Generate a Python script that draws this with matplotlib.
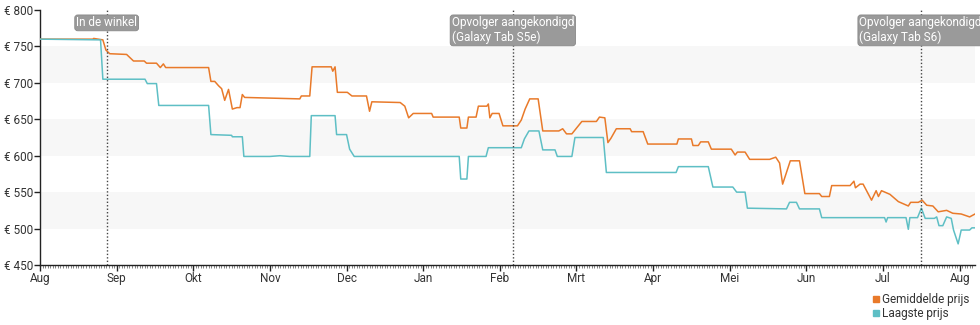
import matplotlib
matplotlib.use('Agg')
import matplotlib.pyplot as plt
import matplotlib.transforms as mtransforms
from matplotlib.lines import Line2D
import numpy as np

plt.rcParams['font.family'] = ['Roboto', 'DejaVu Sans']

# Tijdas in maanden vanaf begin augustus (0 = 1 aug, 12 = 1 aug volgend jaar)
maanden = ['Aug', 'Sep', 'Okt', 'Nov', 'Dec', 'Jan', 'Feb', 'Mrt', 'Apr', 'Mei', 'Jun', 'Jul', 'Aug']

# Gemiddelde prijs
gem_x = [0.00, 0.69, 0.70, 0.82, 0.86, 0.91, 1.13, 1.22, 1.36, 1.39, 1.52, 1.57, 1.61, 1.64,
         2.20, 2.23, 2.28, 2.33, 2.37, 2.41, 2.46, 2.51, 2.57, 2.61, 2.64, 2.67, 3.39, 3.41,
         3.52, 3.55, 3.80, 3.82, 3.85, 3.88, 4.01, 4.07, 4.26, 4.30, 4.33, 4.70, 4.76, 4.81,
         4.87, 5.11, 5.13, 5.47, 5.49, 5.57, 5.59, 5.69, 5.72, 5.83, 5.85, 5.87, 5.90, 5.99,
         6.04, 6.23, 6.28, 6.33, 6.39, 6.50, 6.56, 6.77, 6.82, 6.87, 6.94, 7.07, 7.26, 7.30,
         7.37, 7.41, 7.45, 7.52, 7.70, 7.72, 7.87, 7.93, 8.31, 8.33, 8.50, 8.52, 8.59, 8.62,
         8.72, 8.76, 9.02, 9.07, 9.10, 9.20, 9.26, 9.52, 9.60, 9.65, 9.69, 9.79, 9.91, 9.98,
         10.17, 10.20, 10.30, 10.33, 10.57, 10.62, 10.64, 10.70, 10.74, 10.85, 10.91, 10.94,
         10.98, 11.09, 11.20, 11.33, 11.36, 11.46, 11.51, 11.57, 11.65, 11.72, 11.83, 11.91,
         12.02, 12.13, 12.20]
gem_y = [760, 760, 761, 759, 745, 740, 739, 730, 730, 727, 727, 721, 726, 721,
         721, 702, 702, 696, 692, 676, 691, 664, 666, 666, 684, 680, 678, 682,
         682, 722, 722, 716, 722, 687, 687, 682, 682, 661, 674, 673, 668, 652,
         658, 658, 653, 653, 638, 638, 653, 653, 668, 668, 671, 652, 658, 658,
         641, 641, 649, 664, 678, 678, 634, 634, 637, 630, 630, 647, 647, 653,
         652, 618, 624, 637, 637, 633, 633, 616, 616, 623, 623, 614, 614, 619,
         619, 609, 609, 601, 605, 605, 595, 595, 598, 590, 561, 593, 593, 548,
         548, 544, 544, 559, 559, 565, 556, 561, 561, 539, 552, 544,
         552, 547, 537, 531, 536, 536, 539, 532, 531, 523, 525, 521,
         520, 516, 520]

# Laagste prijs
laag_x = [0.00, 0.79, 0.82, 1.37, 1.40, 1.52, 1.55, 2.20, 2.23, 2.50, 2.51, 2.64, 2.66,
          3.00, 3.13, 3.26, 3.52, 3.54, 3.85, 3.87, 4.00, 4.04, 4.10, 5.47, 5.49, 5.57,
          5.59, 5.82, 5.85, 6.28, 6.32, 6.38, 6.51, 6.56, 6.72, 6.75, 6.94, 6.98, 7.35,
          7.39, 8.30, 8.33, 8.72, 8.78, 9.04, 9.09, 9.20, 9.23, 9.74, 9.78, 9.87, 9.91,
          10.17, 10.20, 11.02, 11.04, 11.06, 11.30, 11.33, 11.35, 11.45, 11.50, 11.55,
          11.67, 11.70, 11.73, 11.78, 11.83, 11.89, 11.92, 11.98, 12.02, 12.13, 12.16, 12.20]
laag_y = [760, 759, 705, 705, 699, 699, 669, 669, 629, 628, 626, 626, 599,
          599, 600, 599, 599, 655, 655, 629, 629, 609, 599, 599, 568, 568,
          599, 599, 611, 611, 623, 634, 634, 608, 608, 599, 599, 625, 625,
          577, 577, 585, 585, 557, 557, 550, 550, 528, 527, 536, 536, 527,
          527, 515, 515, 509, 515, 515, 499, 515, 515, 528, 514,
          514, 516, 504, 504, 516, 514, 498, 479, 498, 498, 501, 501]

# Gebeurtenissen
gebeurtenis_x = [0.87, 6.17, 11.49]
gebeurtenis_tekst = ['In de winkel', 'Opvolger aangekondigd\n(Galaxy Tab S5e)',
                     'Opvolger aangekondigd\n(Galaxy Tab S6)']

oranje = '#e97a2a'
turkoois = '#5ebfc5'

fig = plt.figure(figsize=(9.8, 3.25), dpi=100)
ax = fig.add_axes([40 / 980, 1 - 265 / 325, 935 / 980, 255 / 325])

# Grijze banden achter de grafiek
for lo in (500, 600, 700):
    ax.axhspan(lo, lo + 50, color='#f7f7f7', zorder=0, lw=0)

ax.plot(gem_x, gem_y, color=oranje, lw=1.1, zorder=3)
ax.plot(laag_x, laag_y, color=turkoois, lw=1.1, zorder=4)

trans = mtransforms.blended_transform_factory(ax.transData, ax.transAxes)
for gx, tekst in zip(gebeurtenis_x, gebeurtenis_tekst):
    ax.axvline(gx, color='#444444', ls=(0, (1, 1.5)), lw=1.0, zorder=5)
    ax.text(gx, 0.975, tekst, transform=trans, ha='center', va='top',
            multialignment='left', color='white', fontsize=8.5, zorder=6,
            linespacing=1.15,
            bbox=dict(boxstyle='round,pad=0.12,rounding_size=0.25',
                      fc='#9a9a9a', ec='#888888', lw=0.6))

ax.set_xlim(0, 12.2)
ax.set_ylim(450, 800)
ax.set_yticks(np.arange(450, 801, 50))
ax.set_yticklabels([f'€ {v}' for v in range(450, 801, 50)])
ax.set_xticks(range(len(maanden)))
ax.set_xticklabels(maanden)
ax.set_xticks(np.arange(0, 12.2, 1 / 30), minor=True)

for s in ('top', 'right'):
    ax.spines[s].set_visible(False)
for s in ('left', 'bottom'):
    ax.spines[s].set_color('#222222')
    ax.spines[s].set_linewidth(1.0)

ax.tick_params(axis='both', which='major', labelsize=8.5, colors='#222222',
               labelcolor='#333333', length=4, width=1.0, pad=1)
ax.tick_params(axis='x', which='minor', length=2, width=0.5, colors='#555555')

handles = [Line2D([], [], ls='none', marker='s', ms=5, color=oranje),
           Line2D([], [], ls='none', marker='s', ms=5, color=turkoois)]
fig.legend(handles, ['Gemiddelde prijs', 'Laagste prijs'], loc='lower right',
           bbox_to_anchor=(0.998, -0.01), frameon=False, fontsize=8.5,
           handlelength=0.5, handletextpad=0.25, labelspacing=0.05,
           borderpad=0.2, labelcolor='#333333')

fig.savefig('out.png', dpi=100)
